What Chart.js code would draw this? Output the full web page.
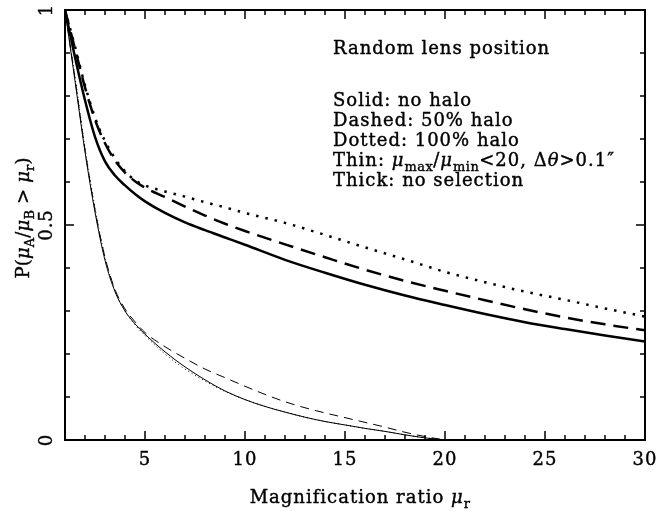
<!DOCTYPE html>
<html>
<head>
<meta charset="utf-8">
<script src="https://cdn.jsdelivr.net/npm/chart.js@4.4.0/dist/chart.umd.min.js"></script>
<style>
  html, body { margin: 0; padding: 0; background: #fff; }
  #wrap { width: 657px; height: 511px; }
</style>
</head>
<body>
<div id="wrap"><canvas id="chart" width="657" height="511"></canvas></div>
<script>
// x grids (magnification ratio)
const muThick = [1, 1.5, 2, 2.5, 3, 3.5, 4, 4.5, 5, 6, 7, 8, 9, 10, 12, 14, 16, 18, 20, 22, 24, 26, 28, 30];
const muThin = [1, 1.5, 2, 2.5, 3, 3.5, 4, 4.5, 5, 6, 7, 8, 9, 10, 11, 12, 13, 14, 15, 16, 17, 18, 19, 20];

// Thick: no selection
const noHaloThick = [1.0, 0.89, 0.79, 0.705, 0.648, 0.615, 0.592, 0.572, 0.555, 0.528, 0.506, 0.488, 0.471, 0.454, 0.419, 0.389, 0.361, 0.336, 0.314, 0.293, 0.274, 0.258, 0.243, 0.229];
const halo50Thick = [1.0, 0.91, 0.82, 0.745, 0.69, 0.65, 0.622, 0.602, 0.587, 0.565, 0.543, 0.522, 0.503, 0.486, 0.455, 0.425, 0.396, 0.37, 0.347, 0.325, 0.304, 0.285, 0.269, 0.255];
const halo100Thick = [1.0, 0.915, 0.825, 0.75, 0.695, 0.655, 0.625, 0.604, 0.592, 0.578, 0.566, 0.553, 0.541, 0.528, 0.505, 0.477, 0.448, 0.42, 0.391, 0.367, 0.345, 0.326, 0.306, 0.287];

// Thin: with selection
const noHaloThin = [1.0, 0.835, 0.67, 0.53, 0.418, 0.345, 0.3, 0.27, 0.246, 0.205, 0.17, 0.14, 0.114, 0.094, 0.078, 0.065, 0.053, 0.043, 0.035, 0.027, 0.02, 0.012, 0.005, 0];
const halo50Thin = [1.0, 0.84, 0.675, 0.535, 0.425, 0.35, 0.305, 0.275, 0.25, 0.217, 0.19, 0.165, 0.145, 0.125, 0.106, 0.089, 0.075, 0.063, 0.052, 0.041, 0.03, 0.018, 0.008, 0];
const halo100Thin = [1.0, 0.845, 0.68, 0.54, 0.425, 0.348, 0.3, 0.268, 0.243, 0.2, 0.165, 0.137, 0.113, 0.094, 0.078, 0.065, 0.053, 0.043, 0.035, 0.027, 0.02, 0.012, 0.005, 0];

const xTickLabels = ['5', '10', '15', '20', '25', '30'];
const yTickLabels = ['0', '0.5', '1'];

const FONT = '"DejaVu Serif", serif';
const FS = 18;

function pts(xs, ys) {
  return xs.map((x, i) => ({ x: x, y: ys[i] }));
}

function line(data, width, dash) {
  return {
    data: data,
    borderColor: '#000',
    borderWidth: width,
    borderDash: dash,
    borderCapStyle: 'butt',
    pointRadius: 0,
    fill: false,
    cubicInterpolationMode: 'monotone'
  };
}

function setFont(ctx, p, size, sp) {
  ctx.font = (p.i ? 'italic ' : '') + (p.sub ? size * 0.72 : size) + 'px ' + FONT;
  ctx.letterSpacing = (p.sub ? sp / 2 : sp) + 'px';
}

// text made of parts: {t, i: italic, sub: subscript}
function richWidth(ctx, parts, size, sp) {
  let w = 0;
  parts.forEach((p) => {
    setFont(ctx, p, size, sp);
    w += ctx.measureText(p.t).width;
  });
  return w;
}

function drawRich(ctx, parts, x, y, size, align, sp) {
  if (sp === undefined) sp = 1;
  let cx = x;
  if (align === 'center') cx = x - richWidth(ctx, parts, size, sp) / 2;
  ctx.textAlign = 'left';
  ctx.textBaseline = 'alphabetic';
  ctx.lineWidth = 0.4;
  parts.forEach((p) => {
    setFont(ctx, p, size, sp);
    const yy = p.sub ? y + size * 0.3 : y;
    ctx.fillText(p.t, cx, yy);
    ctx.strokeText(p.t, cx, yy);
    cx += ctx.measureText(p.t).width;
  });
}

const framePlugin = {
  id: 'frame',
  afterDraw(chart) {
    const ctx = chart.ctx;
    const a = chart.chartArea;
    const xs = chart.scales.x;
    const ys = chart.scales.y;
    ctx.save();
    ctx.strokeStyle = '#000';
    ctx.fillStyle = '#000';

    // frame
    ctx.lineWidth = 2;
    ctx.strokeRect(a.left, a.top, a.right - a.left, a.bottom - a.top);

    // x ticks, bottom and top
    ctx.lineWidth = 1.5;
    for (let v = 2; v < 30; v++) {
      const px = xs.getPixelForValue(v);
      const len = v % 5 === 0 ? 9 : 5;
      ctx.beginPath();
      ctx.moveTo(px, a.bottom); ctx.lineTo(px, a.bottom - len);
      ctx.moveTo(px, a.top); ctx.lineTo(px, a.top + len);
      ctx.stroke();
    }
    // y ticks, left and right
    for (let k = 1; k < 10; k++) {
      const py = ys.getPixelForValue(k / 10);
      const len = k === 5 ? 9 : 5;
      ctx.beginPath();
      ctx.moveTo(a.left, py); ctx.lineTo(a.left + len, py);
      ctx.moveTo(a.right, py); ctx.lineTo(a.right - len, py);
      ctx.stroke();
    }

    // x tick labels
    xTickLabels.forEach((t) => {
      drawRich(ctx, [{ t: t }], xs.getPixelForValue(parseFloat(t)), a.bottom + 25, FS, 'center');
    });

    // y tick labels, rotated
    yTickLabels.forEach((t) => {
      ctx.save();
      ctx.translate(a.left - 13, ys.getPixelForValue(parseFloat(t)));
      ctx.rotate(-Math.PI / 2);
      drawRich(ctx, [{ t: t }], 0, 0, FS, 'center');
      ctx.restore();
    });

    // x title
    drawRich(ctx, [
      { t: 'Magnification ratio ' },
      { t: 'μ', i: true },
      { t: 'r', sub: true }
    ], (a.left + a.right) / 2 + 5, 503, FS, 'center');

    // y title
    ctx.save();
    ctx.translate(29, 218);
    ctx.rotate(-Math.PI / 2);
    drawRich(ctx, [
      { t: 'P(' }, { t: 'μ', i: true }, { t: 'A', sub: true },
      { t: '/' }, { t: 'μ', i: true }, { t: 'B', sub: true },
      { t: ' > ' }, { t: 'μ', i: true }, { t: 'r', sub: true }, { t: ')' }
    ], 0, 0, FS, 'center', 0.2);
    ctx.restore();

    // annotation block
    const lx = 333;
    drawRich(ctx, [{ t: 'Random lens position' }], lx, 54, FS, 'left');
    drawRich(ctx, [{ t: 'Solid: no halo' }], lx, 106, FS, 'left');
    drawRich(ctx, [{ t: 'Dashed: 50% halo' }], lx, 126, FS, 'left');
    drawRich(ctx, [{ t: 'Dotted: 100% halo' }], lx, 146, FS, 'left');
    drawRich(ctx, [
      { t: 'Thin: ' }, { t: 'μ', i: true }, { t: 'max', sub: true },
      { t: '/' }, { t: 'μ', i: true }, { t: 'min', sub: true },
      { t: '<20, Δ' }, { t: 'θ', i: true }, { t: '>0.1″' }
    ], lx, 166, FS, 'left');
    drawRich(ctx, [{ t: 'Thick: no selection' }], lx, 186, FS, 'left');

    ctx.restore();
  }
};

new Chart(document.getElementById('chart').getContext('2d'), {
  type: 'line',
  data: {
    datasets: [
      line(pts(muThick, noHaloThick), 2.5, []),
      line(pts(muThick, halo50Thick), 2.5, [15, 8]),
      line(pts(muThick, halo100Thick), 2.5, [2.5, 7]),
      line(pts(muThin, noHaloThin), 1, []),
      line(pts(muThin, halo50Thin), 1, [9, 6]),
      line(pts(muThin, halo100Thin), 1, [1, 3])
    ]
  },
  plugins: [framePlugin],
  options: {
    responsive: false,
    animation: false,
    layout: { padding: { left: 65, top: 10, right: 12, bottom: 71 } },
    plugins: { legend: { display: false }, tooltip: { enabled: false } },
    scales: {
      x: { type: 'linear', min: 1, max: 30, display: false },
      y: { type: 'linear', min: 0, max: 1, display: false }
    }
  }
});
</script>
</body>
</html>
